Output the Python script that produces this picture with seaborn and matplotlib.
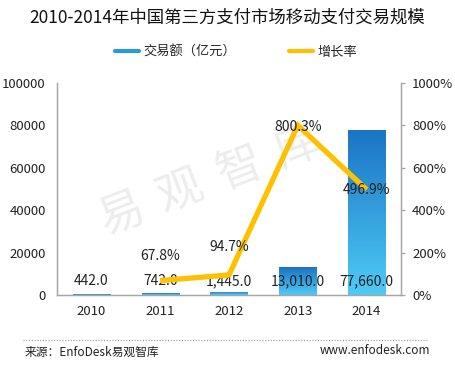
import numpy as np
import pandas as pd
import matplotlib
matplotlib.use("Agg")
import matplotlib.pyplot as plt
from matplotlib.colors import LinearSegmentedColormap
from matplotlib.lines import Line2D
import seaborn as sns

# ---- data ----
years = ["2010", "2011", "2012", "2013", "2014"]
volume = [442.0, 742.0, 1445.0, 13010.0, 77660.0]          # 交易额（亿元）
growth_years = ["2011", "2012", "2013", "2014"]
growth = [67.8, 94.7, 800.3, 496.9]                          # 增长率 %
left_ticks = [0, 20000, 40000, 60000, 80000, 100000]
right_ticks = [0, 200, 400, 600, 800, 1000]
watermark = ["易", "观", "智", "库"]

sns.set_theme(style="white")
plt.rcParams["font.family"] = ["Noto Sans CJK SC", "DejaVu Sans"]

fig = plt.figure(figsize=(4.55, 3.79), dpi=100)

ax = fig.add_axes([57 / 455, 1 - 295 / 379, (401 - 57) / 455, (295 - 83) / 379])
ax2 = ax.twinx()

# watermark (behind bars and line)
for k, ch in enumerate(watermark):
    cx = 121 + 59 * k
    cy = 214 - 22.5 * k
    ax.text(cx / 455, 1 - cy / 379, ch, transform=fig.transFigure, fontsize=33,
            color="#ededed", rotation=21, ha="center", va="center", zorder=0.5,
            clip_on=False)

df = pd.DataFrame({"year": years, "volume": volume})
sns.barplot(data=df, x="year", y="volume", ax=ax, color="#2a9ad8",
            width=0.54, saturation=1)
ax.set_xlim(-0.5, 4.5)
ax.set_ylim(0, 100000)

# gradient fill of bars
cmap = LinearSegmentedColormap.from_list("g", ["#4ecbf6", "#1b74c5"])
grad = np.linspace(0, 1, 256).reshape(-1, 1)
for p in ax.patches:
    x0, y0 = p.get_x(), p.get_y()
    w, h = p.get_width(), p.get_height()
    p.set_facecolor("none")
    p.set_edgecolor("none")
    im = ax.imshow(grad, cmap=cmap, origin="lower", aspect="auto",
                   extent=[x0, x0 + w, y0, y0 + h], zorder=2)
    im.set_clip_path(p)
ax.set_xlim(-0.5, 4.5)
ax.set_ylim(0, 100000)

# bar value labels
for i, v in enumerate(volume):
    ax.annotate(f"{v:,.1f}", (i, 0), xytext=(0, 10), textcoords="offset points",
                ha="center", va="center", fontsize=10, color="#222222", zorder=5)

# growth line
gx = [years.index(y) for y in growth_years]
gdf = pd.DataFrame({"x": gx, "g": growth})
sns.lineplot(data=gdf, x="x", y="g", ax=ax2, color="#FFC000", linewidth=3.8,
             solid_joinstyle="miter", solid_capstyle="butt", zorder=3)
ax2.set_ylim(0, 1000)
ax2.set_xlim(-0.5, 4.5)
offsets = [18, 20, -1, 0]
for xx, g, off in zip(gx, growth, offsets):
    ax2.annotate(f"{g:.1f}%", (xx, g), xytext=(0, off), textcoords="offset points",
                 ha="center", va="center", fontsize=10, color="#222222", zorder=6)

# axes styling
for a in (ax, ax2):
    a.set_xlabel("")
    a.set_ylabel("")
ax.set_yticks(left_ticks)
ax.set_yticklabels([str(t) for t in left_ticks])
ax2.set_yticks(right_ticks)
ax2.set_yticklabels([f"{t}%" for t in right_ticks])
ax.set_xticks(range(len(years)))
ax.set_xticklabels(years)
for a in (ax, ax2):
    for s in a.spines.values():
        s.set_color("#a6a6a6")
        s.set_linewidth(0.9)
    a.spines["top"].set_visible(False)
    a.tick_params(labelsize=9.5, colors="#222222")
ax.tick_params(axis="y", length=0, pad=8)
ax.tick_params(axis="x", length=0, pad=7)
ax2.tick_params(axis="y", length=3, width=0.9, direction="out", color="#a6a6a6", pad=5)
ax.grid(False)
ax2.grid(False)

# title
fig.text(0.5, 1 - 18 / 379, "2010-2014年中国第三方支付市场移动支付交易规模",
         ha="center", va="center", fontsize=12.5, color="#111111")

# legend
handles = [Line2D([], [], color="#2a9ad8", lw=3),
           Line2D([], [], color="#FFC000", lw=3)]
leg = fig.legend(handles, ["交易额（亿元）", "增长率"], loc="center",
                 bbox_to_anchor=(236 / 455, 1 - 52 / 379), ncol=2, frameon=False,
                 fontsize=9.5, handlelength=1.8, handletextpad=0.35, columnspacing=4.0)

# footer
fig.add_artist(Line2D([23 / 455, 428 / 455], [1 - 340 / 379, 1 - 340 / 379],
                      transform=fig.transFigure, color="#999999", lw=0.8,
                      linestyle=(0, (1, 1.5))))
fig.text(25 / 455, 1 - 352 / 379, "来源：EnfoDesk易观智库", ha="left", va="center",
         fontsize=8.5, color="#222222")
fig.text(430 / 455, 1 - 351 / 379, "www.enfodesk.com", ha="right", va="center",
         fontsize=8.5, color="#222222")

fig.savefig("out.png", dpi=100)
